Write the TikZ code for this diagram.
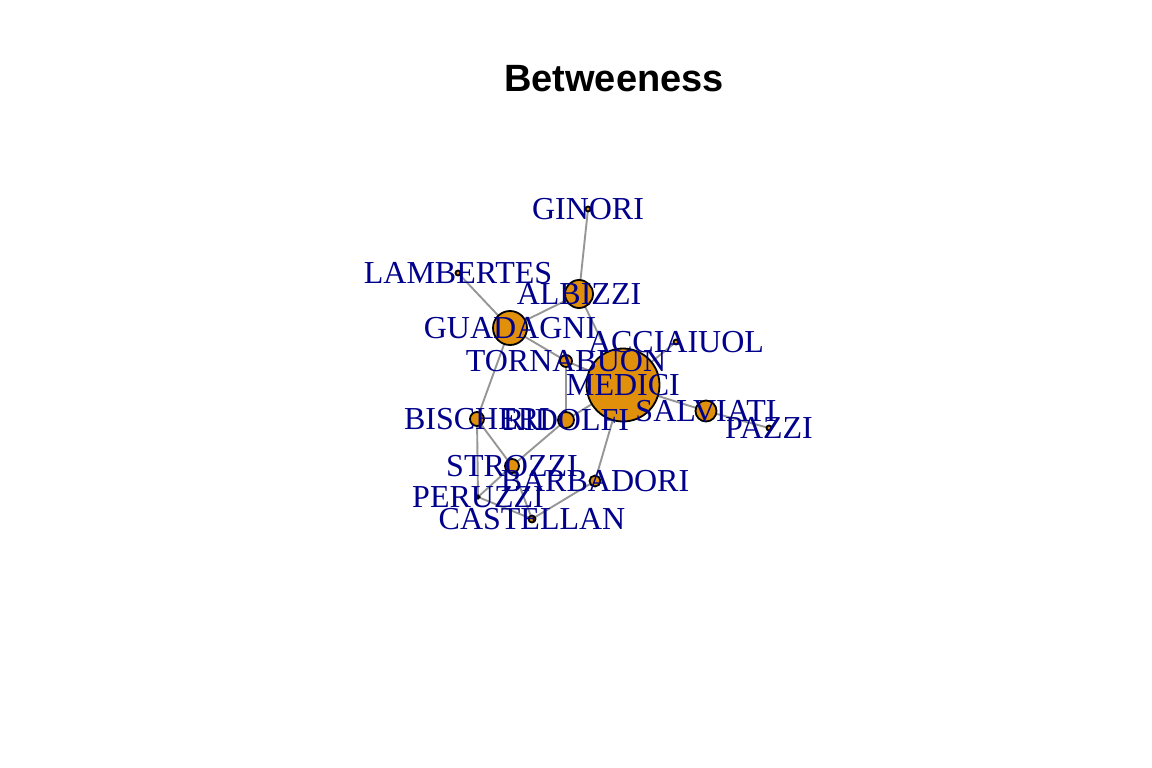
\documentclass[tikz,border=0pt]{standalone}
\usepackage{fontspec}
\setmainfont{Liberation Serif}
\newfontfamily\titlefont{Liberation Sans}
\usetikzlibrary{backgrounds}
\definecolor{famfill}{HTML}{E0900A}
\definecolor{famtext}{HTML}{00008B}
\definecolor{tiegray}{RGB}{150,150,150}
\tikzset{
  family/.style={circle, draw=black, line width=1.8pt, fill=famfill, inner sep=0pt, minimum size=#1},
  tie/.style={draw=tiegray, line width=1.9pt},
  famname/.style={text=famtext, font=\fontsize{32}{38}\selectfont, inner sep=0pt, text height=21pt, text depth=0pt}
}
\begin{document}
\begin{tikzpicture}[x=1pt, y=-1pt]
  \useasboundingbox (0,0) rectangle (1152,768);
  % Title
  \node[anchor=base, font=\titlefont\bfseries\fontsize{38}{46}\selectfont] (title) at (614,92) {Betweeness};
  % Families
  \node[family=5pt]  (ginori)    at (588,209) {};
  \node[family=5pt]  (lambertes) at (458,273) {};
  \node[family=28pt] (albizzi)   at (579,294) {};
  \node[family=34pt] (guadagni)  at (510,328) {};
  \node[family=12pt] (tornabuon) at (566,361) {};
  \node[family=5pt]  (acciaiuol) at (676,342) {};
  \node[family=73pt] (medici)    at (623,385) {};
  \node[family=21pt] (salviati)  at (706,411) {};
  \node[family=5pt]  (pazzi)     at (769,428) {};
  \node[family=14pt] (bischeri)  at (477,419) {};
  \node[family=16pt] (ridolfi)   at (566,420) {};
  \node[family=14pt] (strozzi)   at (512,466) {};
  \node[family=11pt] (barbadori) at (595,481) {};
  \node[family=3pt]  (peruzzi)   at (478,497) {};
  \node[family=7pt]  (castellan) at (532,519) {};
  % Marriages
  \begin{pgfonlayer}{background}
    \draw[tie] (acciaiuol.center) -- (medici.center);
    \draw[tie] (albizzi.center) -- (ginori.center);
    \draw[tie] (albizzi.center) -- (guadagni.center);
    \draw[tie] (albizzi.center) -- (medici.center);
    \draw[tie] (barbadori.center) -- (castellan.center);
    \draw[tie] (barbadori.center) -- (medici.center);
    \draw[tie] (bischeri.center) -- (guadagni.center);
    \draw[tie] (bischeri.center) -- (peruzzi.center);
    \draw[tie] (bischeri.center) -- (strozzi.center);
    \draw[tie] (castellan.center) -- (peruzzi.center);
    \draw[tie] (castellan.center) -- (strozzi.center);
    \draw[tie] (guadagni.center) -- (lambertes.center);
    \draw[tie] (guadagni.center) -- (tornabuon.center);
    \draw[tie] (medici.center) -- (ridolfi.center);
    \draw[tie] (medici.center) -- (salviati.center);
    \draw[tie] (medici.center) -- (tornabuon.center);
    \draw[tie] (pazzi.center) -- (salviati.center);
    \draw[tie] (peruzzi.center) -- (strozzi.center);
    \draw[tie] (ridolfi.center) -- (strozzi.center);
    \draw[tie] (ridolfi.center) -- (tornabuon.center);
  \end{pgfonlayer}
  % Names
  \node[famname] (ginori-n)    at (ginori)    {GINORI};
  \node[famname] (lambertes-n) at (lambertes) {LAMBERTES};
  \node[famname] (albizzi-n)   at (albizzi)   {ALBIZZI};
  \node[famname] (guadagni-n)  at (guadagni)  {GUADAGNI};
  \node[famname] (tornabuon-n) at (tornabuon) {TORNABUON};
  \node[famname] (acciaiuol-n) at (acciaiuol) {ACCIAIUOL};
  \node[famname] (medici-n)    at (medici)    {MEDICI};
  \node[famname] (salviati-n)  at (salviati)  {SALVIATI};
  \node[famname] (pazzi-n)     at (pazzi)     {PAZZI};
  \node[famname] (bischeri-n)  at (bischeri)  {BISCHERI};
  \node[famname] (ridolfi-n)   at (ridolfi)   {RIDOLFI};
  \node[famname] (strozzi-n)   at (strozzi)   {STROZZI};
  \node[famname] (barbadori-n) at (barbadori) {BARBADORI};
  \node[famname] (peruzzi-n)   at (peruzzi)   {PERUZZI};
  \node[famname] (castellan-n) at (castellan) {CASTELLAN};
\end{tikzpicture}
\end{document}
